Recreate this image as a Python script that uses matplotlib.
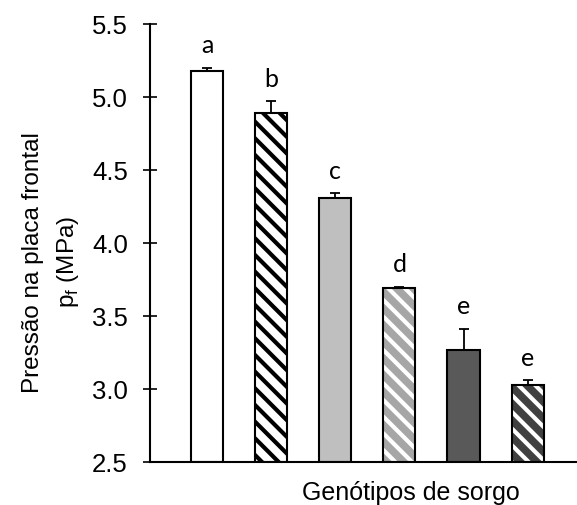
import matplotlib
matplotlib.use('Agg')
import matplotlib.pyplot as plt

plt.rcParams['font.family'] = ['Liberation Sans', 'DejaVu Sans']
plt.rcParams['hatch.linewidth'] = 3.0

# data
genotypes = ['G1', 'G2', 'G3', 'G4', 'G5', 'G6']
means = [5.18, 4.89, 4.31, 3.69, 3.27, 3.03]
errs = [0.02, 0.08, 0.03, 0.01, 0.14, 0.03]
letters = ['a', 'b', 'c', 'd', 'e', 'e']

faces = ['#ffffff', '#ffffff', '#bfbfbf', '#a6a6a6', '#595959', '#404040']
hatch_cols = [None, '#000000', None, '#ffffff', None, '#ffffff']

fig = plt.figure(figsize=(5.77, 5.06), dpi=100)
ax = fig.add_axes([0.26, 0.085, 0.74, 0.866])

x = list(range(len(means)))
base = 2.5
heights = [m - base for m in means]
for i in x:
    hc = hatch_cols[i]
    if hc is None:
        ax.bar(i, heights[i], bottom=base, width=0.5, color=faces[i],
               edgecolor='black', linewidth=1.5, zorder=2)
    else:
        ax.bar(i, heights[i], bottom=base, width=0.5, color=faces[i],
               edgecolor=hc, linewidth=0, hatch='\\\\', zorder=2)
        ax.bar(i, heights[i], bottom=base, width=0.5, fill=False,
               edgecolor='black', linewidth=1.5, zorder=3)

ax.errorbar(x, means, yerr=[[0] * len(errs), errs], fmt='none',
            ecolor='black', elinewidth=1.3, capsize=3.6, capthick=1.3, zorder=1)

for i in x:
    ax.text(i, means[i] + errs[i] + 0.08, letters[i], ha='center', va='bottom',
            fontsize=18, family=['Lato', 'DejaVu Sans'])

ax.set_xlim(-0.89, 5.77)
ax.set_ylim(2.5, 5.5)
ax.set_yticks([2.5, 3.0, 3.5, 4.0, 4.5, 5.0, 5.5])
ax.set_yticklabels(['2.5', '3.0', '3.5', '4.0', '4.5', '5.0', '5.5'], fontsize=18.5)
ax.set_xticks([])
ax.tick_params(axis='y', direction='inout', length=10, width=1.2, pad=11)

for s in ['top', 'right']:
    ax.spines[s].set_visible(False)
ax.spines['left'].set_linewidth(1.5)
ax.spines['bottom'].set_linewidth(1.5)

# y label as two centred lines
fig.text(0.058, 0.482, 'Pressão na placa frontal', rotation=90,
         ha='center', va='center', fontsize=17.5)
fig.text(0.117, 0.482, 'p$_\\mathregular{f}$ (MPa)', rotation=90,
         ha='center', va='center', fontsize=17.5)

ax.set_xlabel('Genótipos de sorgo', fontsize=18)
ax.xaxis.set_label_coords(0.61, -0.04)
ax.xaxis.label.set_va('top')

fig.savefig('out.png', dpi=100)
